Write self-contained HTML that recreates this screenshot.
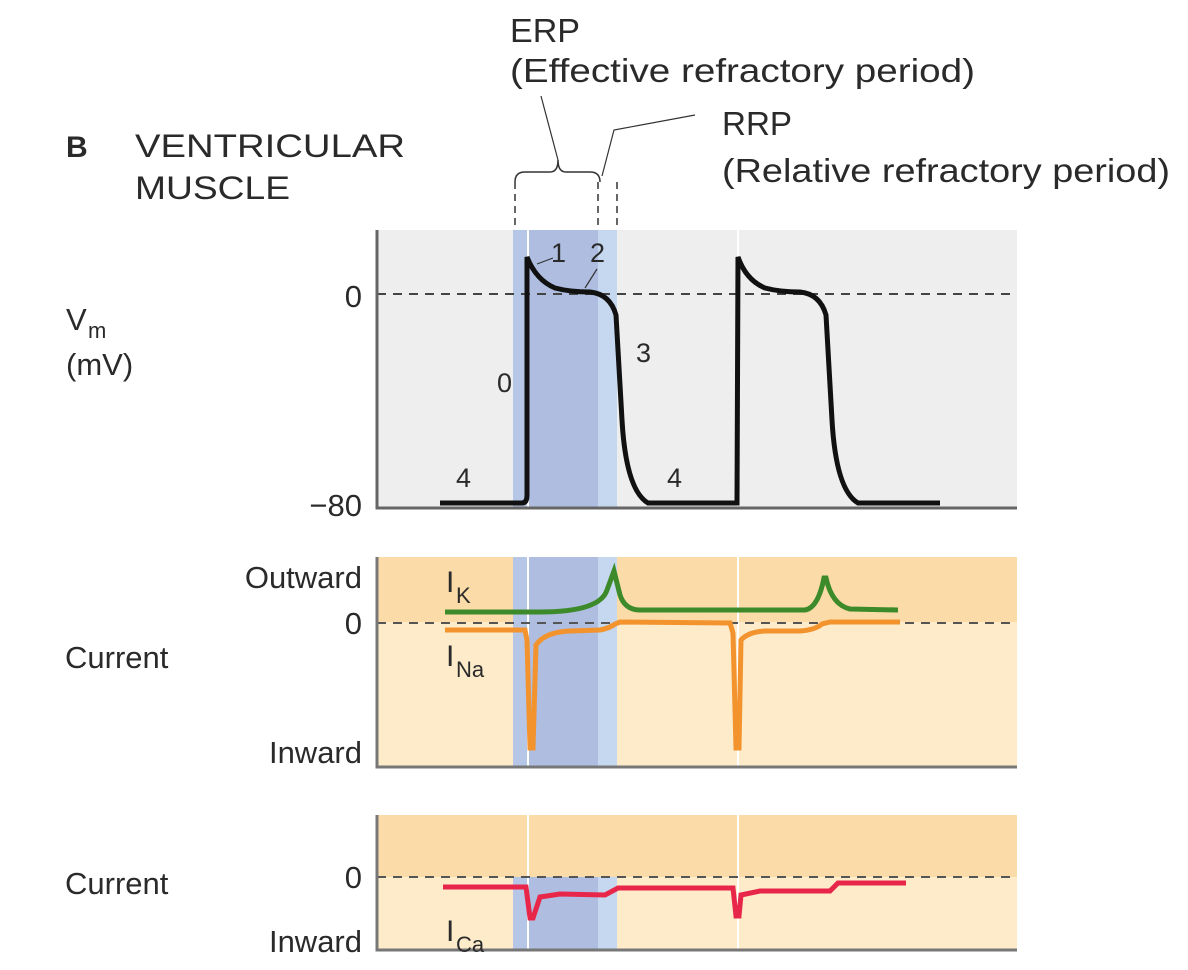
<!DOCTYPE html>
<html><head><meta charset="utf-8"><style>
html,body{margin:0;padding:0;background:#fff;}
svg{display:block;}
text{font-family:"Liberation Sans",sans-serif;fill:#2a2a2a;}
</style></head><body>
<svg width="1188" height="970" viewBox="0 0 1188 970" xmlns="http://www.w3.org/2000/svg">
<text x="66" y="157" font-size="30" font-weight="bold" fill="#222">B</text>
<text x="135" y="157" font-size="32" textLength="270" lengthAdjust="spacingAndGlyphs">VENTRICULAR</text>
<text x="135" y="199" font-size="32" textLength="155" lengthAdjust="spacingAndGlyphs">MUSCLE</text>
<text x="510" y="42" font-size="33" textLength="70" lengthAdjust="spacingAndGlyphs">ERP</text>
<text x="510" y="82" font-size="33" textLength="465" lengthAdjust="spacingAndGlyphs">(Effective refractory period)</text>
<text x="722" y="135" font-size="33" textLength="70" lengthAdjust="spacingAndGlyphs">RRP</text>
<text x="722" y="182" font-size="33" textLength="448" lengthAdjust="spacingAndGlyphs">(Relative refractory period)</text>
<path d="M515,182 Q515,172 525,172 L550,172 Q558,172 558,160 Q558,172 566,172 L590,172 Q600,172 600,182" fill="none" stroke="#333" stroke-width="1.5"/>
<line x1="558" y1="160" x2="541" y2="96" stroke="#333" stroke-width="1.2"/>
<polyline points="602,176 614,130 695,115" fill="none" stroke="#333" stroke-width="1.2"/>
<g stroke="#333" stroke-width="1.5" stroke-dasharray="7,5">
<line x1="515" y1="182" x2="515" y2="232"/>
<line x1="598" y1="182" x2="598" y2="232"/>
<line x1="617" y1="182" x2="617" y2="232"/>
</g>
<rect x="377" y="230" width="640" height="278" fill="#eeeeee"/>
<rect x="513" y="230" width="104" height="278" fill="#c5d8ef"/>
<rect x="513" y="230" width="85" height="278" fill="#aebde0"/>
<rect x="513" y="230" width="15" height="278" fill="#b5c6e6"/>
<line x1="528" y1="230" x2="528" y2="508" stroke="#fff" stroke-width="2"/>
<line x1="738" y1="230" x2="738" y2="508" stroke="#fff" stroke-width="2"/>
<line x1="377" y1="294" x2="1017" y2="294" stroke="#444" stroke-width="2" stroke-dasharray="9,7"/>
<path d="M377,230 L377,508 L1017,508" fill="none" stroke="#666" stroke-width="3"/>
<path d="M440,503 L522,503 Q527,503 527,495 L527,257 Q536,280 555,288 Q570,292 590,292 Q610,294 616,315 L622,420 Q626,490 648,503 L737,503 L738,257 Q746,280 765,288 Q780,292 800,292 Q820,294 826,315 L832,420 Q836,490 858,503 L940,503" fill="none" stroke="#111" stroke-width="5"/>
<text x="456" y="487" font-size="27">4</text>
<text x="667" y="487" font-size="27">4</text>
<text x="497" y="392" font-size="27">0</text>
<text x="636" y="362" font-size="27">3</text>
<text x="551" y="262" font-size="27">1</text>
<text x="590" y="262" font-size="27">2</text>
<line x1="537" y1="264" x2="553" y2="258" stroke="#333" stroke-width="1.2"/>
<line x1="585" y1="288" x2="597" y2="269" stroke="#333" stroke-width="1.2"/>
<text x="362" y="307" font-size="31" text-anchor="end">0</text>
<text x="362" y="516" font-size="31" text-anchor="end">−80</text>
<text x="66" y="330" font-size="31">V</text>
<text x="88" y="338" font-size="22">m</text>
<text x="66" y="375" font-size="31">(mV)</text>
<rect x="377" y="557" width="640" height="210" fill="#fdebca"/>
<rect x="377" y="557" width="640" height="65" fill="#fbdca8"/>
<rect x="513" y="557" width="104" height="210" fill="#c5d8ef"/>
<rect x="513" y="557" width="85" height="210" fill="#aebde0"/>
<rect x="513" y="557" width="15" height="210" fill="#b5c6e6"/>
<line x1="528" y1="557" x2="528" y2="767" stroke="#fff" stroke-width="2"/>
<line x1="738" y1="557" x2="738" y2="767" stroke="#fff" stroke-width="2"/>
<line x1="377" y1="623" x2="1017" y2="623" stroke="#555" stroke-width="2" stroke-dasharray="9,7"/>
<path d="M377,557 L377,767 L1017,767" fill="none" stroke="#777" stroke-width="3"/>
<path d="M445,612 L540,612 Q600,612 607,590 L614,571 L620,595 Q625,610 640,610 L805,610 Q818,608 824,578 L826,578 Q832,605 850,609 L898,610" fill="none" stroke="#3c8a2a" stroke-width="5"/>
<path d="M445,630 L525,630 L527,640 L530,748 L533,748 L536,645 Q545,632 570,631 L600,630 Q610,628 615,624 L620,622 L730,623 L733,633 L736,748 L739,748 L741,640 Q748,632 765,631 L800,631 Q815,630 822,624 L830,622 L900,622" fill="none" stroke="#f2932e" stroke-width="5"/>
<text x="446" y="592" font-size="30">I</text>
<text x="456" y="603" font-size="22">K</text>
<text x="446" y="666" font-size="30">I</text>
<text x="456" y="677" font-size="22">Na</text>
<text x="362" y="588" font-size="31" text-anchor="end">Outward</text>
<text x="362" y="634" font-size="31" text-anchor="end">0</text>
<text x="65" y="668" font-size="31">Current</text>
<text x="362" y="763" font-size="31" text-anchor="end">Inward</text>
<rect x="377" y="815" width="640" height="135" fill="#fdebca"/>
<rect x="377" y="815" width="640" height="62" fill="#fbdca8"/>
<rect x="513" y="877" width="104" height="73" fill="#c5d8ef"/>
<rect x="513" y="877" width="85" height="73" fill="#aebde0"/>
<rect x="513" y="877" width="15" height="73" fill="#b5c6e6"/>
<line x1="528" y1="815" x2="528" y2="950" stroke="#fff" stroke-width="2"/>
<line x1="738" y1="815" x2="738" y2="950" stroke="#fff" stroke-width="2"/>
<line x1="377" y1="877" x2="1017" y2="877" stroke="#555" stroke-width="2" stroke-dasharray="9,7"/>
<path d="M377,815 L377,950 L1017,950" fill="none" stroke="#777" stroke-width="3"/>
<path d="M443,887 L526,887 L530,918 L533,918 L540,897 L560,894 L605,895 L618,888 L733,888 L736,916 L739,916 L741,895 L760,891 L830,891 L838,883 L906,883" fill="none" stroke="#e8264a" stroke-width="5"/>
<text x="446" y="941" font-size="30">I</text>
<text x="456" y="952" font-size="22">Ca</text>
<text x="65" y="894" font-size="31">Current</text>
<text x="362" y="888" font-size="31" text-anchor="end">0</text>
<text x="362" y="952" font-size="31" text-anchor="end">Inward</text>
</svg>
</body></html>
